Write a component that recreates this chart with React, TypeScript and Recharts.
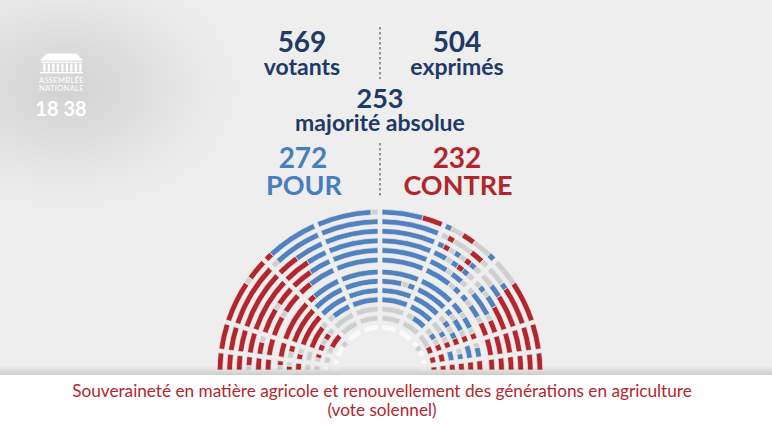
import { PieChart, Pie, Cell } from 'recharts'

// one string per row of seats, outermost row first, read from left to right.
// groups split by a space are the blocks between the aisles.
// P = pour, C = contre, A = abstention / absent, N = non-votant
const seatRows = [
  'CCC CCCC CCCCCCACCC CPPPPPPP PPPPPPPPA PPPPPPCCC PAACCAAAP AAAACCCCCC CCCC CCC',
  'CCC CCCC CCCCCCCCCC APPPPPPP PPPPPPPP PPPPPPPP ACAAACCA AAAPCCCCCC CCCC CCC',
  'CCC CCCC CCCCCCCCC CCCPPPP PPPPPPPP PPPPPPPP PCAPACPA AAPPCCCCC CCCC CCC',
  'ACC CCC CCCCCCCCC CCCCPPP PPPPPPP PPPPPPP PPAPCPA APAPPCCCC CCC CCC',
  'CC CCA CCCCACCC CCCPPP PPPPPPP PPPPPPP PPPAPPA APPPPACC CCC CC',
  'CC CCC CCCACCC CCPPPP PPPPPP PPPPPP PPPPAP PAPPACC CCC CC',
  'AC CCC CCCCCCC CPPPP PPPPPP PPPPPP PPPPP PPAPPAC APP CC',
  'CA AC CCCCCC PPPPP PPPPP PPPAP PPPPP PAPPAC PP CC',
  'CC CA CCCCC PPPP PPPPP PPPPP PPPP APAPC AP CC',
  'A AA CCCCA APPP PPPP PPPP PPPP AAPAC PP C',
  'A AC CACA AAA AAA AAA APP APAC CC C',
  'N A ACC AA AAA AAA AAA AAC C C',
  'N N NNA NN NN NN NN NAN N N',
]

const turnout = [
  { value: 569, label: 'votants' },
  { value: 504, label: 'exprimés' },
]
const majority = { value: 253, label: 'majorité absolue' }
const results = [
  { value: 272, label: 'POUR' },
  { value: 232, label: 'CONTRE' },
]
const title = 'Souveraineté en matière agricole et renouvellement des générations en agriculture'
const subtitle = '(vote solennel)'
const sittingTime = '18 38'

const seatColors: Record<string, string> = {
  P: '#5182bf',
  C: '#b1272d',
  A: '#cfcfcf',
  N: '#fafafa',
}

const NAVY = '#1e3a66'
const BLUE = '#4a7dbb'
const RED = '#b1262c'
const FONT = 'Lato, "Open Sans", sans-serif'

const CX = 380
const CY = 372
const blockEdges = [180, 172.5, 162, 136, 113.5, 90, 66.5, 44, 18, 7.5, 0]
const SEAT_DEPTH = 5.6
const AISLE = 4

const rowRadius = (i: number) => (i < 6 ? 160 - i * 9.6 : 100 - (i - 6) * 9.2)

// consecutive seats of the same vote become one run
function toRuns(block: string) {
  const runs: { id: number; code: string; seats: number }[] = []
  block.split('').forEach((code) => {
    const last = runs[runs.length - 1]
    if (last && last.code === code) last.seats += 1
    else runs.push({ id: runs.length, code, seats: 1 })
  })
  return runs
}

function Hemicycle() {
  const pies = seatRows.flatMap((row, i) => {
    const r = rowRadius(i)
    const pad = ((AISLE / 2) / r) * (180 / Math.PI)
    return row.split(' ').map((block, j) => {
      const runs = toRuns(block)
      return (
        <Pie
          key={`${i}-${j}`}
          data={runs}
          dataKey="seats"
          cx={CX}
          cy={CY}
          innerRadius={r - SEAT_DEPTH / 2}
          outerRadius={r + SEAT_DEPTH / 2}
          startAngle={blockEdges[j] - pad}
          endAngle={blockEdges[j + 1] + pad}
          stroke="none"
          isAnimationActive={false}
        >
          {runs.map((s) => (
            <Cell key={s.id} fill={seatColors[s.code]} stroke="#eeeeee" strokeWidth={0.7} />
          ))}
        </Pie>
      )
    })
  })

  return (
    <PieChart width={772} height={430} margin={{ top: 0, right: 0, bottom: 0, left: 0 }}>
      {pies}
    </PieChart>
  )
}

function Overlay() {
  const columns = Array.from({ length: 9 }, (_, c) => 43.2 + c * 4.5)
  return (
    <svg width={772} height={430} style={{ position: 'absolute', left: 0, top: 0 }} fontFamily={FONT}>
      <defs>
        <linearGradient id="shade" x1="0" y1="0" x2="0" y2="1">
          <stop offset="0" stopColor="#000" stopOpacity={0} />
          <stop offset="1" stopColor="#000" stopOpacity={0.14} />
        </linearGradient>
      </defs>

      {/* logo */}
      <g fill="#ffffff">
        <polygon points="40,60.5 46.5,53.5 76.5,53.5 83,60.5" />
        <rect x={41} y={61.6} width={41} height={1.2} />
        {columns.map((x) => (
          <rect key={x} x={x} y={63.6} width={2.3} height={8} />
        ))}
        <rect x={40} y={72} width={43} height={1.4} />
        <text x={61.5} y={83} fontSize={7.6} textAnchor="middle" letterSpacing={0.3}>ASSEMBLÉE</text>
        <text x={61.5} y={91} fontSize={7.6} textAnchor="middle" letterSpacing={0.3}>NATIONALE</text>
        <text x={61} y={116} fontSize={20} fontWeight={700} textAnchor="middle">{sittingTime}</text>
      </g>

      {/* turnout */}
      {turnout.map((t, k) => (
        <g key={t.label} fill={NAVY} fontWeight={700} textAnchor="middle">
          <text x={k === 0 ? 302 : 457} y={52} fontSize={28}>{t.value}</text>
          <text x={k === 0 ? 302 : 457} y={75} fontSize={23}>{t.label}</text>
        </g>
      ))}
      <line x1={380} x2={380} y1={27} y2={79} stroke="#5c6572" strokeWidth={1.3} strokeDasharray="2.5 2.5" />

      <g fill={NAVY} fontWeight={700} textAnchor="middle">
        <text x={380} y={108} fontSize={27}>{majority.value}</text>
        <text x={380} y={131} fontSize={23}>{majority.label}</text>
      </g>

      {results.map((t, k) => (
        <g key={t.label} fill={k === 0 ? BLUE : RED} fontWeight={700} textAnchor="middle">
          <text x={k === 0 ? 303 : 457} y={168} fontSize={28}>{t.value}</text>
          <text x={k === 0 ? 304 : 458} y={195} fontSize={27}>{t.label}</text>
        </g>
      ))}
      <line x1={380} x2={380} y1={143} y2={197} stroke="#5c6572" strokeWidth={1.3} strokeDasharray="2.5 2.5" />

      {/* caption */}
      <rect x={0} y={366} width={772} height={9} fill="url(#shade)" />
      <rect x={0} y={375} width={772} height={55} fill="#ffffff" />
      <g fill="#b3262d" fontSize={17.2} textAnchor="middle">
        <text x={382} y={397}>{title}</text>
        <text x={382} y={416}>{subtitle}</text>
      </g>
    </svg>
  )
}

export default function App() {
  return (
    <div
      style={{
        position: 'relative',
        width: 772,
        height: 430,
        overflow: 'hidden',
        backgroundColor: '#eeeeee',
        backgroundImage:
          'radial-gradient(ellipse 180px 125px at 65px 88px, #d2d2d2 0%, #dcdcdc 35%, #e7e7e7 70%, #eeeeee 100%)',
      }}
    >
      <style>{'body { margin: 0; }'}</style>
      <Hemicycle />
      <Overlay />
    </div>
  )
}
